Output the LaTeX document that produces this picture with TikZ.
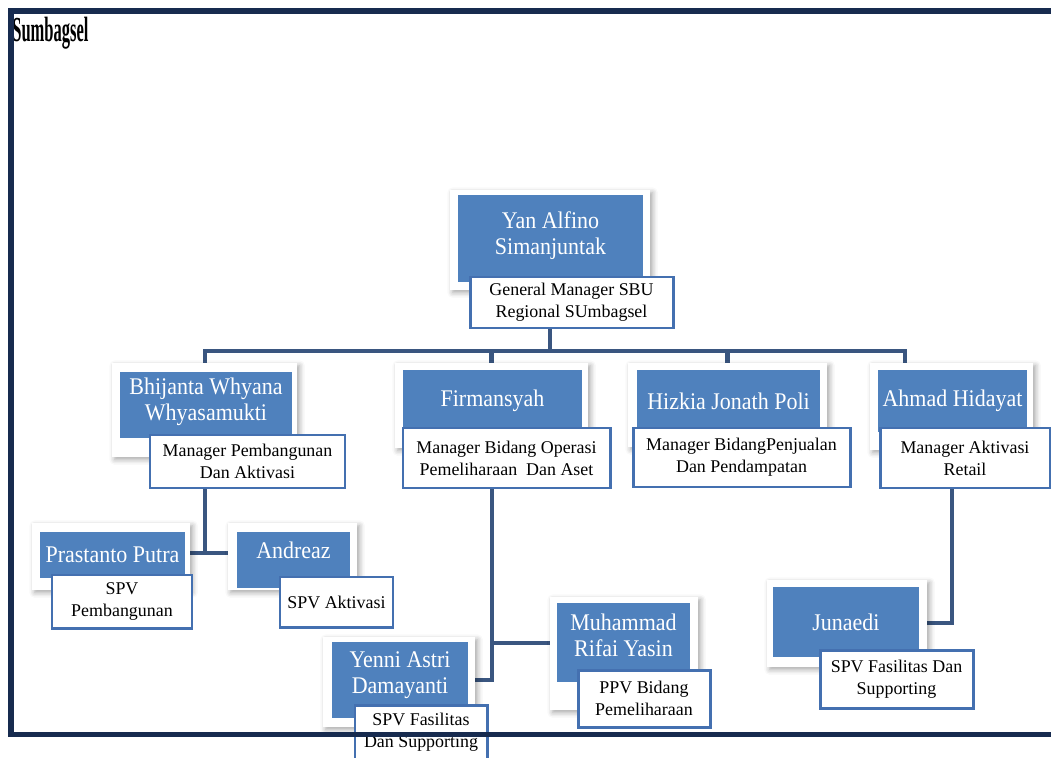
\documentclass[tikz,border=0pt]{standalone}
\usepackage{fontspec}
\setmainfont{Liberation Serif}
\newfontfamily\namefont[FakeStretch=0.92]{Liberation Serif}
\newfontfamily\titlefont[FakeStretch=0.47]{Liberation Serif}
\usetikzlibrary{shadows.blur,backgrounds}
\definecolor{navy}{RGB}{23,43,79}
\definecolor{boxblue}{RGB}{79,129,189}
\definecolor{rimblue}{RGB}{68,112,176}
\definecolor{linkblue}{RGB}{58,86,128}

\begin{document}
\begin{tikzpicture}
[x=0.02cm,y=-0.02cm,
 card/.style 2 args={rectangle,fill=white,inner sep=0pt,
   blur shadow={shadow xshift=1.5pt,shadow yshift=-1.5pt,shadow blur radius=3pt,shadow opacity=35},
   minimum width=#1*0.02cm,minimum height=#2*0.02cm},
 namebox/.style 2 args={rectangle,fill=boxblue,text=white,align=center,inner sep=0pt,
   font=\namefont\fontsize{13.6}{14.5}\selectfont,
   minimum width=#1*0.02cm,minimum height=#2*0.02cm},
 rolebox/.style 2 args={rectangle,draw=rimblue,line width=1.7pt,fill=white,align=center,inner sep=0pt,
   font=\fontsize{10.2}{12.5}\selectfont,
   minimum width=#1*0.02cm,minimum height=#2*0.02cm},
 conn/.style={draw=linkblue,line width=2.3pt},
 frame/.style={draw=navy,line width=3.4pt}]
\useasboundingbox (0,0) rectangle (1051,757);
\node[anchor=base west,inner sep=0pt,font=\titlefont\fontsize{20}{24}\selectfont\bfseries] (title) at (12,42) {Sumbagsel};
%
\node[card={200}{100}] (yanC) at (550,240) {};
\node[namebox={185}{87},text depth=0.22cm] (yan) at (550.5,238.5) {Yan Alfino\\Simanjuntak};
\node[rolebox={203}{51}] (yanR) at (571.5,302.5) {General Manager SBU\\Regional SUmbagsel};
%
\node[card={185}{94}] (bhiC) at (204.5,410) {};
\node[namebox={172}{66},text depth=0.24cm] (bhi) at (206,405) {Bhijanta Whyana\\Whyasamukti};
\node[rolebox={195}{53}] (bhiR) at (247.5,461.5) {Manager Pembangunan\\Dan Aktivasi};
\node[card={193}{85}] (firC) at (491.5,405.5) {};
\node[namebox={179}{62}] (fir) at (492.5,401) {Firmansyah};
\node[rolebox={207}{60}] (firR) at (506.5,458) {Manager Bidang Operasi\\Pemeliharaan~ Dan Aset};
\node[card={199}{84}] (hizC) at (727.5,405) {};
\node[namebox={183}{62}] (hiz) at (728.5,401) {Hizkia Jonath Poli};
\node[rolebox={217}{59}] (hizR) at (741.5,457.5) {Manager BidangPenjualan\\Dan Pendampatan};
\node[card={163}{87}] (ahmC) at (951.5,406.5) {};
\node[namebox={149}{62}] (ahm) at (952.5,401) {Ahmad Hidayat};
\node[rolebox={170}{60}] (ahmR) at (965,458) {Manager Aktivasi\\Retail};
%
\node[card={158}{67}] (praC) at (111,556.5) {};
\node[namebox={145}{46}] (pra) at (112.5,555) {Prastanto Putra};
\node[rolebox={140}{53}] (praR) at (122,601.5) {SPV\\Pembangunan};
\node[card={129}{67}] (andC) at (292.5,556.5) {};
\node[namebox={113}{56},text depth=0.4cm] (andr) at (293.5,560) {Andreaz};
\node[rolebox={113}{50}] (andR) at (336.5,602) {SPV Aktivasi};
%
\node[card={152}{90}] (yenC) at (399,682) {};
\node[namebox={136}{76},text depth=0.3cm] (yen) at (400,680) {Yenni Astri\\Damayanti};
\node[rolebox={132}{54}] (yenR) at (421,732) {SPV Fasilitas\\Dan Supporting};
\node[card={148}{113}] (muhC) at (624,653.5) {};
\node[namebox={133}{79},text depth=0.3cm] (muh) at (623.5,642.5) {Muhammad\\Rifai Yasin};
\node[rolebox={132}{57}] (muhR) at (644,698.5) {PPV Bidang\\Pemeliharaan};
%
\node[card={160}{87}] (junC) at (847,623.5) {};
\node[namebox={146}{70}] (jun) at (846,622) {Junaedi};
\node[rolebox={153}{58}] (junR) at (896.5,679) {SPV Fasilitas Dan\\Supporting};
%
\begin{scope}[on background layer]
\coordinate (bus)  at (550,351);
\coordinate (busL) at (205,351);
\coordinate (busR) at (905,351);
\coordinate (bhiJ) at (205,553);
\coordinate (firK) at (492,643);
\coordinate (firJ) at (492,680);
\coordinate (ahmJ) at (952,623);
\draw[conn] (yanR.south -| bus) -- (bus);
\draw[conn] (bhiC.north -| busL) -- (busL) -- (busR) -- (ahmC.north -| busR);
\draw[conn] (firC.north) -- (firC.north |- bus);
\draw[conn] (hizC.north) -- (hizC.north |- bus);
\draw[conn] (bhiR.south -| bhiJ) -- (bhiJ);
\draw[conn] (praC.east |- bhiJ) -- (andC.west |- bhiJ);
\draw[conn] (firR.south -| firJ) -- (firJ) -- (yenC.east |- firJ);
\draw[conn] (firK) -- (muhC.west |- firK);
\draw[conn] (ahmR.south -| ahmJ) -- (ahmJ) -- (junC.east |- ahmJ);
\end{scope}
%
\draw[frame] (1051,11) -- (11,11) -- (11,734.5) -- (1051,734.5);
\end{tikzpicture}
\end{document}
